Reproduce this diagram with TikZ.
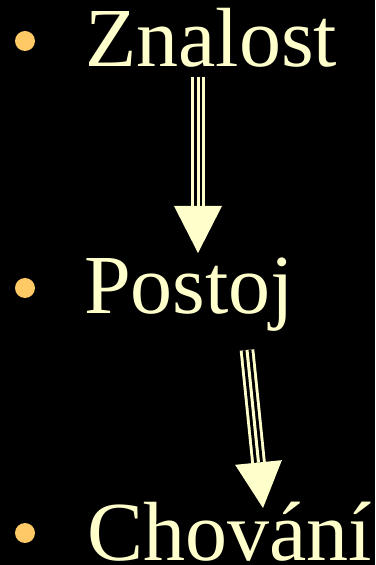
\documentclass[tikz,border=0pt]{standalone}
\usepackage{fontspec}
\setmainfont{Liberation Serif}
\usepackage{xcolor}
\usetikzlibrary{calc,positioning}
\definecolor{cream}{HTML}{FFFFCC}
\definecolor{dotgold}{HTML}{FFC966}

\begin{document}
\begin{tikzpicture}[
  x=1pt, y=1pt,
  word/.style={anchor=base west, inner sep=0pt, text=cream, font=\fontsize{84}{90}\selectfont},
  dot/.style={circle, fill=dotgold, minimum size=20pt, inner sep=0pt},
  shaft/.style={cream, line width=14.6pt,
    postaction={draw=black, line width=8.8pt},
    postaction={draw=cream, line width=3pt}},
  head/.style={fill=cream}
]
\useasboundingbox (0,0) rectangle (375,565);
\fill[black] (0,0) rectangle (375,565);
% bullet words
\node[word] (w1) at (85,498) {Znalost};
\node[word] (w2) at (84,251) {Postoj};
\node[word] (w3) at (87,5) {Chování};
\node[dot] (d1) at (25,524) {};
\node[dot] (d2) at (25,277) {};
\node[dot] (d3) at (25,32) {};
% arrows
\coordinate (a1s) at (198,488);
\coordinate (a1b) at (198,359);
\coordinate (a1t) at (198,312);
\coordinate (a2s) at (247,215);
\coordinate (a2b) at (258.5,102.5);
\coordinate (a2t) at (263,57);
\draw[shaft] (a1s) -- (a1b);
\fill[head] ($(a1b)!24pt!90:(a1t)$) -- ($(a1b)!24pt!-90:(a1t)$) -- (a1t) -- cycle;
\draw[shaft] (a2s) -- (a2b);
\fill[head] ($(a2b)!23.5pt!90:(a2t)$) -- ($(a2b)!23.5pt!-90:(a2t)$) -- (a2t) -- cycle;
\end{tikzpicture}
\end{document}
